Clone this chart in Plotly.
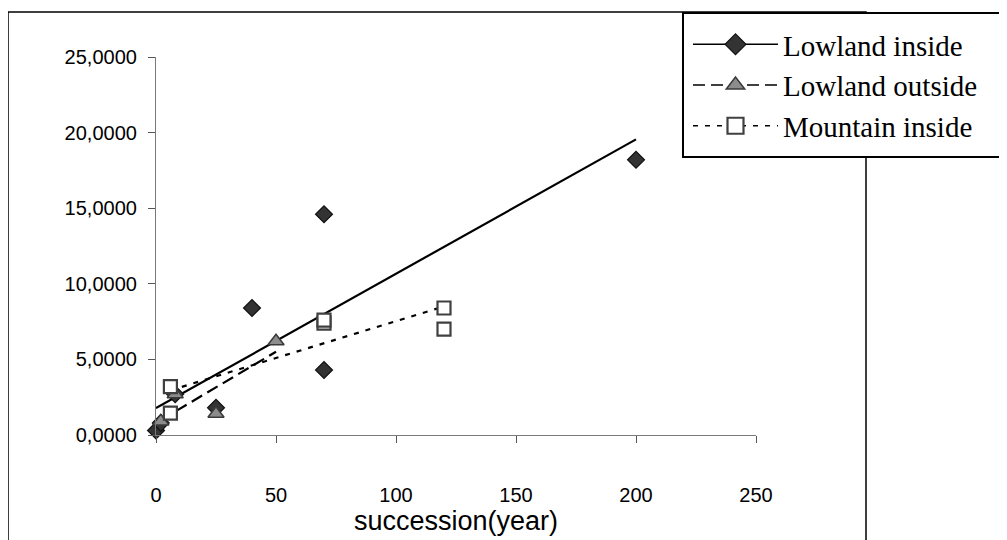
import numpy as np
import plotly.graph_objects as go

# ---------------- data ----------------
lowland_inside_x = [0, 2, 8, 25, 40, 70, 70, 200]
lowland_inside_y = [0.3, 0.8, 2.7, 1.8, 8.4, 14.6, 4.3, 18.2]

lowland_outside_x = [2, 8, 25, 50]
lowland_outside_y = [0.9, 2.7, 1.4, 6.2]

mountain_inside_x = [6, 6, 70, 70, 120, 120]
mountain_inside_y = [3.2, 1.45, 7.4, 7.6, 8.4, 7.0]

series_names = ["Lowland inside", "Lowland outside", "Mountain inside"]

x_tick_vals = [0, 50, 100, 150, 200, 250]
y_tick_vals = [0, 5, 10, 15, 20, 25]
y_tick_text = ["0,0000", "5,0000", "10,0000", "15,0000", "20,0000", "25,0000"]

x_title = "succession(year)"

# ---------------- layout geometry (page pixels; page body has an 8px margin) ----------------
OFF = 8
W, H = 1007 - OFF, 540 - OFF
PL, PR, PT, PB = 156 - OFF, 756 - OFF, 57 - OFF, 435 - OFF  # plot area in figure pixels


def px(x):
    x = x - OFF
    return (x - PL) / (PR - PL)


def py(y):
    y = y - OFF
    return (PB - y) / (PB - PT)


styles = [
    dict(symbol="diamond", size=13, color="#333333", line=dict(color="#111111", width=1.2),
         dash="solid"),
    dict(symbol="triangle-up", size=14, color="#8c8c8c", line=dict(color="#3a3a3a", width=1.5),
         dash="12px,6px"),
    dict(symbol="square", size=13, color="white", line=dict(color="#404040", width=2.2),
         dash="5px,7px"),
]
series = [
    (lowland_inside_x, lowland_inside_y),
    (lowland_outside_x, lowland_outside_y),
    (mountain_inside_x, mountain_inside_y),
]

fig = go.Figure()

# linear trend lines (least squares fit of each series)
for (xs, ys), st, name in zip(series, styles, series_names):
    k, b = np.polyfit(xs, ys, 1)
    tx = np.array([min(xs), max(xs)], dtype=float)
    fig.add_trace(go.Scatter(
        x=tx, y=k * tx + b, mode="lines",
        line=dict(color="black", width=2.2, dash=st["dash"]),
        showlegend=False, hoverinfo="skip", cliponaxis=False,
    ))

# data points
for (xs, ys), st, name in zip(series, styles, series_names):
    fig.add_trace(go.Scatter(
        x=xs, y=ys, mode="markers", name=name,
        marker=dict(symbol=st["symbol"], size=st["size"], color=st["color"], line=st["line"]),
        showlegend=False, cliponaxis=False,
    ))

# legend entries (marker + line sample)
for st, name in zip(styles, series_names):
    fig.add_trace(go.Scatter(
        x=[None], y=[None], mode="lines+markers", name=name,
        marker=dict(symbol=st["symbol"], size=st["size"] + 3, color=st["color"], line=st["line"]),
        line=dict(color="black", width=1.5, dash=st["dash"]),
    ))

shapes = [
    # outer chart frame
    dict(type="rect", xref="paper", yref="paper",
         x0=px(8), x1=px(866), y0=py(560), y1=py(12),
         line=dict(color="black", width=1.5), layer="above"),
    # legend box
    dict(type="rect", xref="paper", yref="paper",
         x0=px(683), x1=px(1005), y0=py(157), y1=py(13),
         line=dict(color="black", width=2), fillcolor="white", layer="above"),
]

fig.update_layout(
    width=W, height=H,
    margin=dict(l=PL, r=W - PR, t=PT, b=H - PB, autoexpand=False),
    paper_bgcolor="white", plot_bgcolor="white",
    showlegend=True,
    legend=dict(
        x=px(688), y=py(19), xanchor="left", yanchor="top",
        bgcolor="rgba(0,0,0,0)", borderwidth=0,
        font=dict(family="Liberation Serif", size=29, color="black"),
        itemwidth=85, tracegroupgap=0,
    ),
    shapes=shapes,
    xaxis=dict(
        range=[0, 250], tickvals=x_tick_vals,
        showgrid=False, zeroline=False,
        showline=True, linecolor="#7a7a7a", linewidth=1.2,
        ticks="outside", ticklen=7, tickcolor="#555555", tickwidth=1.2,
        ticklabelstandoff=35,
        tickfont=dict(family="Liberation Sans", size=20, color="black"),
        title=dict(text=x_title, font=dict(family="Liberation Sans", size=27, color="black"),
                   standoff=6),
    ),
    yaxis=dict(
        range=[0, 25], tickvals=y_tick_vals, ticktext=y_tick_text,
        showgrid=False, zeroline=False,
        showline=True, linecolor="#7a7a7a", linewidth=1.2,
        ticks="outside", ticklen=7, tickcolor="#555555", tickwidth=1.2,
        ticklabelstandoff=7,
        tickfont=dict(family="Liberation Sans", size=20, color="black"),
    ),
)

fig.write_html("out.html")
